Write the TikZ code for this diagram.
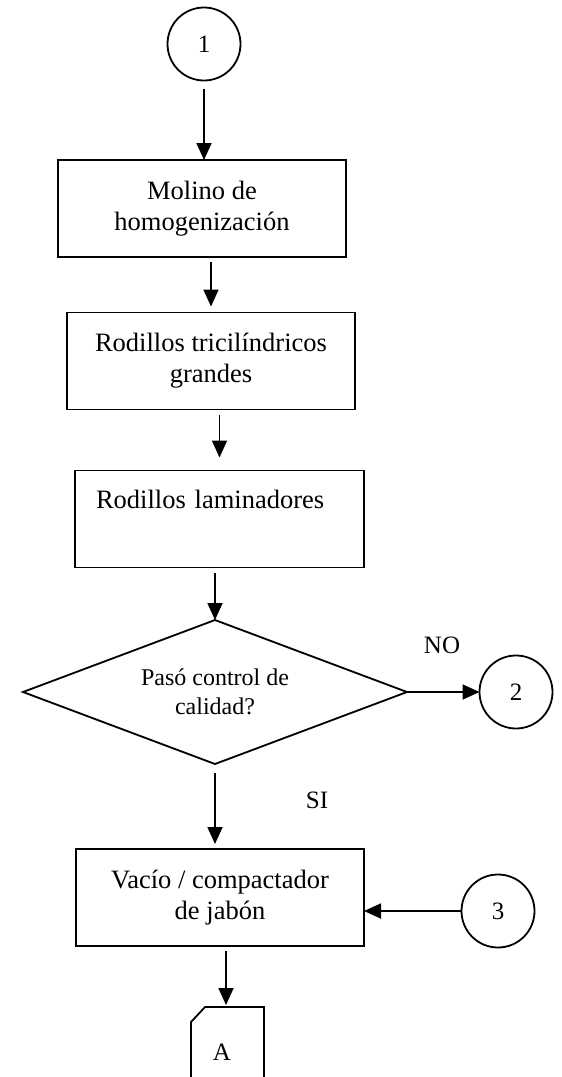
\documentclass[tikz,border=0pt]{standalone}
\usepackage{fontspec}
\setmainfont{Liberation Serif}
\usetikzlibrary{arrows.meta, positioning, shapes.geometric}

\begin{document}
\begin{tikzpicture}[x=0.5pt, y=-0.5pt, line width=0.9pt,
      proc/.style={draw, rectangle, minimum width=144pt, minimum height=48.5pt,
        align=center, inner sep=2pt, outer sep=0pt,
        font=\fontsize{13.25}{15.5}\selectfont},
      conn/.style={draw, circle, minimum size=36.5pt, inner sep=0pt, outer sep=0pt,
        font=\fontsize{12.5}{15}\selectfont},
      dec/.style={draw, diamond, aspect=2.667, minimum width=192pt, minimum height=72pt,
        inner sep=0pt, outer sep=0pt, align=center,
        font=\fontsize{12}{14.5}\selectfont},
      lbl/.style={font=\fontsize{12.5}{15}\selectfont},
      arr/.style={-{Triangle[length=8.5pt, width=7.5pt]}, shorten <=2.5pt}]
    \useasboundingbox (0,0) rectangle (562,1077);

    % process chain
    \node[conn] (c1) at (204,44) {1};
    \node[proc] (molino) at (202,208.5) {Molino de\\homogenización};
    \node[proc] (tricil) at (211,361) {Rodillos tricilíndricos\\grandes};
    \node[proc, text width=123.5pt, align=left, inner xsep=10.5pt] (lamin)
      at (219.5,519) {Rodillos laminadores\\ \strut};
    \node[dec] (control) at (215,692) {Pasó control de\\calidad?};
    \node[conn] (c2) at (516,692) {2};
    \node[lbl] (no) at (442,645) {NO};
    \node[lbl] (si) at (317,800) {SI};
    \node[proc] (vacio) at (220,897.5) {Vacío / compactador\\de jabón};
    \node[conn] (c3) at (498,911) {3};

    % off-page connector, runs past the lower edge
    \node[lbl] (offA) at (222,1052) {A};
    \coordinate (offtop) at (226,1007);
    \draw (264,1082) -- (264,1007) -- (205,1007) -- (191,1022) -- (191,1082);

    \draw[arr, shorten <=4pt] (c1.south) -- (c1.south |- molino.north);
    \draw[arr, shorten >=3pt] (molino.south -| tricil.north) -- (tricil.north);
    \draw[arr, shorten >=6.5pt] (tricil.south -| lamin.north) -- (lamin.north);
    \draw[arr] (lamin.south -| control.north) -- (control.north);
    \draw[arr, shorten <=4.5pt, shorten >=2.5pt] (control.south) -- (control.south |- vacio.north);
    \draw[arr, shorten <=0pt] (control.east) -- (c2.west);
    \draw[arr, shorten <=0pt] (c3.west) -- (c3.west -| vacio.east);
    \draw[arr, shorten >=1pt] (vacio.south -| offtop) -- (offtop);
\end{tikzpicture}
\end{document}
